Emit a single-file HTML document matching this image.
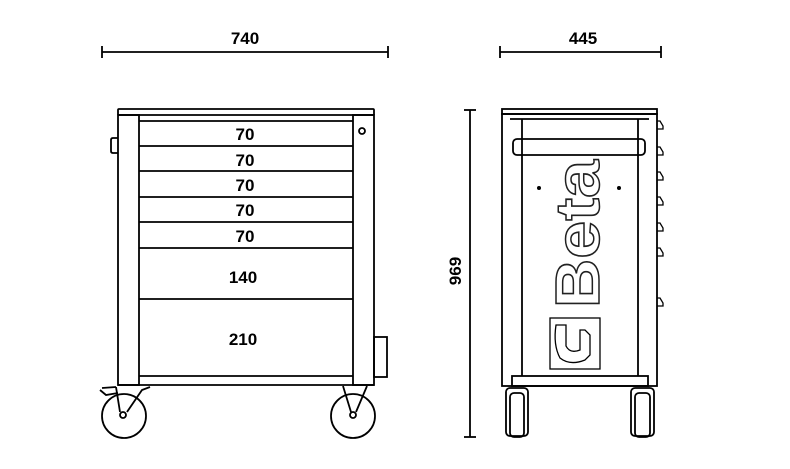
<!DOCTYPE html>
<html><head><style>html,body{margin:0;padding:0;background:#fff}svg{display:block}</style></head><body>
<svg width="790" height="469" viewBox="0 0 790 469" xmlns="http://www.w3.org/2000/svg" font-family="Liberation Sans, sans-serif">
<rect width="790" height="469" fill="#fff"/>
<g stroke="#000" stroke-width="1.8" fill="none">
<line x1="102" y1="52" x2="388" y2="52"/><line x1="102" y1="46" x2="102" y2="58"/><line x1="388" y1="46" x2="388" y2="58"/>
<line x1="500" y1="52" x2="661" y2="52"/><line x1="500" y1="46" x2="500" y2="58"/><line x1="661" y1="46" x2="661" y2="58"/>
<line x1="470" y1="110" x2="470" y2="437"/><line x1="464" y1="110" x2="476" y2="110"/><line x1="464" y1="437" x2="476" y2="437"/>

<rect x="118" y="109" width="256" height="6" rx="1"/>
<rect x="118" y="115" width="21" height="270"/>
<rect x="353" y="115" width="21" height="270"/>
<line x1="139" y1="121" x2="353" y2="121"/>
<line x1="139" y1="146" x2="353" y2="146"/>
<line x1="139" y1="171" x2="353" y2="171"/>
<line x1="139" y1="197" x2="353" y2="197"/>
<line x1="139" y1="222" x2="353" y2="222"/>
<line x1="139" y1="248" x2="353" y2="248"/>
<line x1="139" y1="299" x2="353" y2="299"/>
<line x1="139" y1="376" x2="353" y2="376"/>
<line x1="118" y1="385" x2="374" y2="385"/>
<path d="M118 138 H113 Q111 138 111 140 V151 Q111 153 113 153 H118"/>
<circle cx="362" cy="131" r="3"/>
<rect x="374" y="337" width="13" height="40"/>
<circle cx="124" cy="416" r="22"/>
<circle cx="123" cy="415" r="3"/>
<path d="M116 387 L120 412 M150 387 L142 390 L127 412"/>
<path d="M102 388 L116 387 M100 390 L106 395 L118 393"/>
<circle cx="353" cy="416" r="22"/>
<circle cx="353" cy="415" r="3"/>
<path d="M343 386 L351 412 M367 386 L356 412"/>

<rect x="502" y="109" width="155" height="5"/>
<rect x="502" y="114" width="155" height="272"/>
<line x1="510" y1="119" x2="649" y2="119"/>
<line x1="522" y1="119" x2="522" y2="376"/>
<line x1="638" y1="119" x2="638" y2="376"/>
<rect x="512" y="376" width="136" height="10"/>
<rect x="513" y="139" width="132" height="16" rx="4"/>
<rect x="550" y="318" width="50" height="51" stroke-width="1.3"/>
<path d="M556 325 Q553 345 560 358 Q570 366 585 360 L590 355 L590 335 L585 330 L580 330 L580 350 Q570 354 566 346 L566 325 Z" stroke-width="1.3"/>
<path d="M657 121 h3 l3 5 v3 h-6 M657 147 h3 l3 5 v3 h-6 M657 172 h3 l3 5 v3 h-6 M657 197 h3 l3 5 v3 h-6 M657 223 h3 l3 5 v3 h-6 M657 248 h3 l3 5 v3 h-6 M657 298 h3 l3 5 v3 h-6" stroke-width="1.3"/>
<rect x="506" y="388" width="22" height="48" rx="4"/>
<rect x="510" y="393" width="14" height="44" rx="4"/>
<rect x="631" y="388" width="23" height="48" rx="4"/>
<rect x="635" y="393" width="15" height="44" rx="4"/>
</g>
<circle cx="539" cy="188" r="2" fill="#000"/>
<circle cx="619" cy="188" r="2" fill="#000"/>
<text transform="translate(599,308) rotate(-90)" font-size="62" font-weight="bold" fill="#fff" stroke="#222" stroke-width="1.5" textLength="148" lengthAdjust="spacingAndGlyphs">Beta</text>

<g font-size="17" font-weight="bold" text-anchor="middle" fill="#000">
<text x="245" y="44">740</text>
<text x="583" y="44">445</text>
<text x="245" y="140">70</text>
<text x="245" y="166">70</text>
<text x="245" y="191">70</text>
<text x="245" y="216">70</text>
<text x="245" y="242">70</text>
<text x="243" y="283">140</text>
<text x="243" y="345">210</text>
<text transform="translate(461,271) rotate(-90)">969</text>
</g>
</svg>
</body></html>
